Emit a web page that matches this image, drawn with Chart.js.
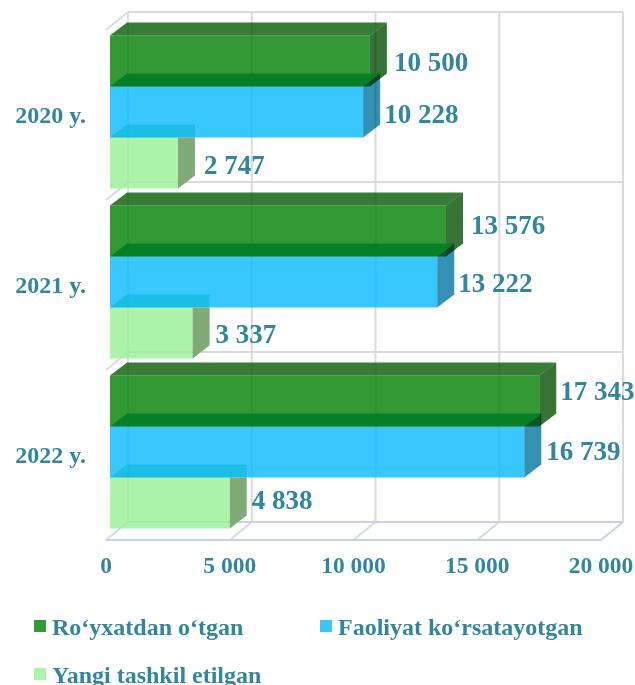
<!DOCTYPE html>
<html>
<head>
<meta charset="utf-8">
<style>
  html, body { margin: 0; padding: 0; background: #fff; }
</style>
<script src="https://cdn.jsdelivr.net/npm/chart.js@4"></script>
</head>
<body>
<canvas id="chart" width="635" height="685"></canvas>
<script>
// Chart data
const years = ['2020 y.', '2021 y.', '2022 y.'];
const registered = [10500, 13576, 17343];
const active = [10228, 13222, 16739];
const newlyCreated = [2747, 3337, 4838];
const seriesNames = ['Ro‘yxatdan o‘tgan', 'Faoliyat ko‘rsatayotgan', 'Yangi tashkil etilgan'];
const xTicks = [0, 5000, 10000, 15000, 20000];

const TEAL = '#31859c';
const SERIF = '"Liberation Serif", serif';
const frontColors = ['rgba(0,127,3,0.8)', 'rgba(6,186,255,0.8)', 'rgba(154,240,149,0.8)'];
const topColors = ['rgba(5,92,5,0.8)', 'rgba(0,125,35,0.85)', 'rgba(15,185,215,0.65)'];
const sideColors = ['rgb(55,115,55)', 'rgb(52,145,180)', 'rgb(130,170,120)'];

// 3D look: how far a bar's back edge sits from its front edge
const DEPTH_X = 17;
const DEPTH_Y = 13;

function fmt(v) {
    return String(v).replace(/\B(?=(\d{3})+$)/g, ' ');
}

function poly(ctx, pts, fill) {
    ctx.beginPath();
    ctx.moveTo(pts[0][0], pts[0][1]);
    for (let i = 1; i < pts.length; i++) ctx.lineTo(pts[i][0], pts[i][1]);
    ctx.closePath();
    ctx.fillStyle = fill;
    ctx.fill();
}

function line(ctx, x1, y1, x2, y2, color) {
    ctx.beginPath();
    ctx.moveTo(x1, y1);
    ctx.lineTo(x2, y2);
    ctx.strokeStyle = color;
    ctx.lineWidth = 2;
    ctx.stroke();
}

// Box walls and floor behind the bars
const box3d = {
    id: 'box3d',
    beforeDatasetsDraw(chart) {
        const { ctx, scales: { x, y } } = chart;
        const grey = '#dadada';
        const blue = '#c5d2e4';
        // front plane of the floor vs back wall, relative to the scale
        const fx = -4, fy = 3, bx = 18, by = -15;
        const left = x.getPixelForValue(0);
        const right = x.getPixelForValue(20000);
        ctx.save();
        for (let i = 0; i <= years.length; i++) {
            const b = y.getPixelForValue(i - 0.5);
            if (i < years.length) {
                line(ctx, left + bx, b + by, right + bx, b + by, grey);
                line(ctx, left + fx, b + fy, left + bx, b + by, grey);
            }
        }
        const floor = y.getPixelForValue(years.length - 0.5);
        const top = y.getPixelForValue(-0.5);
        xTicks.forEach((t, i) => {
            const px = x.getPixelForValue(t);
            line(ctx, px + bx, top + by, px + bx, floor + by, i === 0 ? '#d5e0ee' : grey);
            line(ctx, px + fx, floor + fy, px + bx, floor + by, i === 4 ? blue : grey);
        });
        line(ctx, left + bx, floor + by, right + bx, floor + by, blue);
        line(ctx, left + fx, floor + fy, right + fx, floor + fy, blue);
        ctx.restore();
    },
    afterDatasetsDraw(chart) {
        const { ctx } = chart;
        // per bar nudges of the value labels, [dx, dy] by year then series
        const labelNudge = [
            [[24, 3], [21, 4], [26, 4]],
            [[25, -4], [21, 3], [23, 3]],
            [[21, -8], [22, 1], [22, -1]]
        ];
        ctx.save();
        [0, 1, 2].forEach(d => {
            chart.getDatasetMeta(d).data.forEach(bar => {
                const t = bar.y - bar.height / 2;
                const b = bar.y + bar.height / 2;
                const backX = bar.x + DEPTH_X;
                ctx.globalCompositeOperation = 'source-over';
                if (d === 2) {
                    // lowest bar: its top runs square over the blue bar, side starts under it
                    poly(ctx, [[bar.base, t], [backX, t], [backX, t - DEPTH_Y], [bar.base + DEPTH_X, t - DEPTH_Y]], topColors[d]);
                    poly(ctx, [[bar.x, t], [backX, t], [backX, b - DEPTH_Y], [bar.x, b]], sideColors[d]);
                } else {
                    poly(ctx, [[bar.base, t], [bar.x, t], [backX, t - DEPTH_Y], [bar.base + DEPTH_X, t - DEPTH_Y]], topColors[d]);
                    // side faces darken whatever sits behind them
                    ctx.globalCompositeOperation = 'multiply';
                    poly(ctx, [[bar.x, t], [backX, t - DEPTH_Y], [backX, b - DEPTH_Y], [bar.x, b]], sideColors[d]);
                }
            });
        });
        ctx.globalCompositeOperation = 'source-over';
        ctx.font = 'bold 27px ' + SERIF;
        ctx.fillStyle = TEAL;
        ctx.textAlign = 'left';
        ctx.textBaseline = 'middle';
        [0, 1, 2].forEach(d => {
            const meta = chart.getDatasetMeta(d);
            meta.data.forEach((bar, i) => {
                const v = chart.data.datasets[d].data[i];
                ctx.fillText(fmt(v), bar.x + labelNudge[i][d][0], bar.y + labelNudge[i][d][1]);
            });
        });

        // legend: two columns, third entry wraps
        const spots = [[34, 627], [320, 627], [34, 675]];
        ctx.font = 'bold 24px ' + SERIF;
        seriesNames.forEach((name, i) => {
            ctx.fillStyle = frontColors[i];
            ctx.fillRect(spots[i][0], spots[i][1] - 7, 12, 12);
            ctx.fillStyle = TEAL;
            ctx.fillText(name, spots[i][0] + 18, spots[i][1] + 2);
        });
        ctx.restore();
    }
};

new Chart(document.getElementById('chart').getContext('2d'), {
    type: 'bar',
    data: {
        labels: years,
        datasets: [
            { label: seriesNames[0], data: registered, backgroundColor: frontColors[0] },
            { label: seriesNames[1], data: active, backgroundColor: frontColors[1] },
            { label: seriesNames[2], data: newlyCreated, backgroundColor: frontColors[2] }
        ]
    },
    options: {
        indexAxis: 'y',
        responsive: false,
        animation: false,
        barPercentage: 1,
        categoryPercentage: 0.9,
        layout: { padding: { top: 27, right: 0, left: 0, bottom: 0 } },
        plugins: { legend: { display: false }, tooltip: { enabled: false } },
        scales: {
            x: {
                min: 0,
                max: 20000,
                afterBuildTicks(axis) { axis.ticks = xTicks.map(v => ({ value: v })); },
                afterFit(axis) {
                    axis.height = 148;
                    axis.paddingLeft = 0;
                    axis.paddingRight = 30;
                },
                grid: { display: false, drawTicks: false },
                border: { display: false },
                ticks: {
                    color: TEAL,
                    font: { family: SERIF, size: 23.5, weight: 'bold' },
                    padding: 16,
                    labelOffset: -4,
                    maxRotation: 0,
                    autoSkip: false,
                    callback: v => fmt(v)
                }
            },
            y: {
                afterFit(axis) {
                    axis.width = 110;
                    axis.paddingTop = 0;
                    axis.paddingBottom = 0;
                },
                grid: { display: false, drawTicks: false },
                border: { display: false },
                ticks: {
                    color: TEAL,
                    font: { family: SERIF, size: 24, weight: 'bold' },
                    padding: 24,
                    labelOffset: 5
                }
            }
        }
    },
    plugins: [box3d]
});
</script>
</body>
</html>
